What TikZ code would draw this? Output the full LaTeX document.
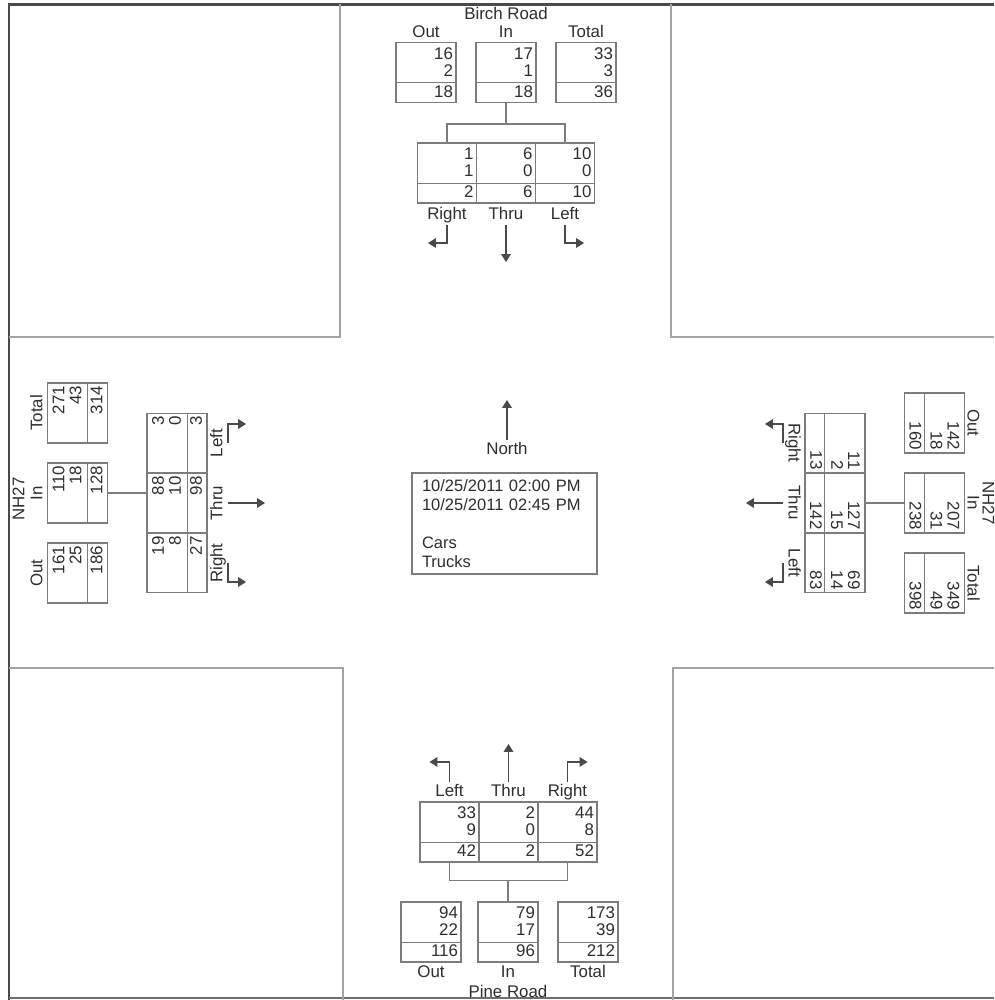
\documentclass[tikz,border=0pt]{standalone}
\usepackage{fontspec}
\setmainfont{Liberation Sans}
\usepackage{tikz}
\usetikzlibrary{arrows.meta,calc,positioning}
\definecolor{ink}{HTML}{2E2E2E}
\definecolor{boxline}{HTML}{7C7C7C}
\definecolor{blockline}{HTML}{A3A3A3}
\definecolor{pageedge}{HTML}{4A4A4A}
\newcommand{\countfont}{\fontsize{9.6pt}{9.64pt}\selectfont}
\tikzset{
    countbox/.style={
        draw=boxline,
        line width=0.6pt,
        text=ink,
        font=\countfont,
        minimum width=1.2cm,
        minimum height=1.2cm,
        text width=1.08cm,
        inner xsep=0.06cm,
        inner ysep=0pt,
        align=right,
        append after command={
            ($(\tikzlastnode.south west)!0.333!(\tikzlastnode.north west)$)
            edge[draw=boxline,line width=0.6pt]
            ($(\tikzlastnode.south east)!0.333!(\tikzlastnode.north east)$)
        }
    },
    movebox/.style={
        countbox,
        minimum width=1.18cm,
        text width=1.06cm
    },
    tag/.style={
        text=ink,
        font=\countfont,
        inner sep=1pt,
        text height=7pt,
        text depth=2pt
    },
    link/.style={
        draw=boxline,
        line width=0.6pt
    },
    turn/.style={
        draw=pageedge,
        line width=0.6pt,
        -{Triangle[length=4.5pt,width=5.5pt]}
    },
    infobox/.style={
        draw=boxline,
        line width=0.6pt,
        text=ink,
        font=\fontsize{9.4pt}{11.2pt}\selectfont,
        text width=3.3cm,
        inner xsep=0.2cm,
        minimum height=2.02cm,
        align=left
    }
}

\begin{document}
\begin{tikzpicture}[x=0.02cm,y=0.02cm]

    \useasboundingbox (-506,-499) rectangle (488,501);
    \clip (-506,-499) rectangle (488,501);

    % Bords de page
    \draw[pageedge,line width=1.5pt]
        (-497,-499) -- (-497,496.5) -- (488,496.5);
    \draw[pageedge!80,line width=0.9pt]
        (-497,-497) -- (488,-497);

    % Blocs
    \draw[blockline,line width=0.8pt]
        (-497,164) -- (-166,164) -- (-166,497);
    \draw[blockline,line width=0.8pt]
        (488,164) -- (165,164) -- (165,497);
    \draw[blockline,line width=0.8pt]
        (-497,-167) -- (-163,-167) -- (-163,-499);
    \draw[blockline,line width=0.8pt]
        (488,-167) -- (167,-167) -- (167,-499);

    % Birch Road
    \node[tag] (bRoad) at (0,486) {Birch Road};
    \node[tag] (bOutH) at (-80,468) {Out};
    \node[tag] (bInH) at (0,468) {In};
    \node[tag] (bTotH) at (80,468) {Total};
    \node[countbox] (bOut) at (-80,428.5) {16\\2\\[2.3pt]18};
    \node[countbox] (bIn) at (0,428.5) {17\\1\\[2.3pt]18};
    \node[countbox] (bTot) at (80,428.5) {33\\3\\[2.3pt]36};
    \node[movebox] (bRight) at (-59,328) {1\\1\\[2.3pt]2};
    \node[movebox] (bThru) at (0,328) {6\\0\\[2.3pt]6};
    \node[movebox] (bLeft) at (59,328) {10\\0\\[2.3pt]10};
    \node[tag] (bRightT) at (-59,286) {Right};
    \node[tag] (bThruT) at (0,286) {Thru};
    \node[tag] (bLeftT) at (59,286) {Left};

    \draw[link] (bIn.south) -- ++(0,-21) coordinate (bFork);
    \draw[link] (bRight.north) |- (bFork) -| (bLeft.north);
    \draw[turn] (bRightT.south) |- ++(-19,-18);
    \draw[turn] (bThruT.south) -- ++(0,-37);
    \draw[turn] (bLeftT.south) |- ++(19,-18);

    % NH27 ouest
    \begin{scope}[rotate=90,transform shape]
        \node[tag] (wRoad) at (2,486) {NH27};
        \node[tag] (wOutH) at (-72,468) {Out};
        \node[tag] (wInH) at (8,468) {In};
        \node[tag] (wTotH) at (88,468) {Total};
        \node[countbox] (wOut) at (-72,428.5) {161\\25\\[2.3pt]186};
        \node[countbox] (wIn) at (8,428.5) {110\\18\\[2.3pt]128};
        \node[countbox] (wTot) at (88,428.5) {271\\43\\[2.3pt]314};
        \node[movebox] (wRight) at (-62,329) {19\\8\\[2.3pt]27};
        \node[movebox] (wThru) at (-2,329) {88\\10\\[2.3pt]98};
        \node[movebox] (wLeft) at (58,329) {3\\0\\[2.3pt]3};
        \node[tag] (wRightT) at (-62,288) {Right};
        \node[tag] (wThruT) at (-2,288) {Thru};
        \node[tag] (wLeftT) at (58,288) {Left};

        \draw[link] (wIn.south) -- ++(0,-21) coordinate (wFork);
        \draw[link] (wRight.north) -| (wFork) |- (wLeft.north);
        \draw[turn] (wRightT.south) -| ++(-19,-18);
        \draw[turn] (wThruT.south) -- ++(0,-37);
        \draw[turn] (wLeftT.south) -| ++(19,-18);
    \end{scope}

    % NH27 est
    \begin{scope}[rotate=-90,transform shape]
        \node[tag] (eRoad) at (2,481) {NH27};
        \node[tag] (eOutH) at (-78,466) {Out};
        \node[tag] (eInH) at (2,466) {In};
        \node[tag] (eTotH) at (82,466) {Total};
        \node[countbox] (eOut) at (-78,428.5) {142\\18\\[2.3pt]160};
        \node[countbox] (eIn) at (2,428.5) {207\\31\\[2.3pt]238};
        \node[countbox] (eTot) at (82,428.5) {349\\49\\[2.3pt]398};
        \node[movebox] (eRight) at (-58,329) {11\\2\\[2.3pt]13};
        \node[movebox] (eThru) at (2,329) {127\\15\\[2.3pt]142};
        \node[movebox] (eLeft) at (62,329) {69\\14\\[2.3pt]83};
        \node[tag] (eRightT) at (-58,287) {Right};
        \node[tag] (eThruT) at (2,287) {Thru};
        \node[tag] (eLeftT) at (62,287) {Left};

        \draw[link] (eIn.south) -- ++(0,-21) coordinate (eFork);
        \draw[link] (eRight.north) -| (eFork) |- (eLeft.north);
        \draw[turn] (eRightT.south) -| ++(-19,-18);
        \draw[turn] (eThruT.south) -- ++(0,-37);
        \draw[turn] (eLeftT.south) -| ++(19,-18);
    \end{scope}

    % Pine Road
    \node[tag] (pRoad) at (2,-492) {Pine Road};
    \node[tag] (pOutH) at (-75,-472) {Out};
    \node[tag] (pInH) at (2,-472) {In};
    \node[tag] (pTotH) at (82,-472) {Total};
    \node[countbox] (pOut) at (-75,-431) {94\\22\\[2.3pt]116};
    \node[countbox] (pIn) at (2,-431) {79\\17\\[2.3pt]96};
    \node[countbox] (pTot) at (82,-431) {173\\39\\[2.3pt]212};
    \node[movebox] (pLeft) at (-56.5,-331) {33\\9\\[2.3pt]42};
    \node[movebox] (pThru) at (2.5,-331) {2\\0\\[2.3pt]2};
    \node[movebox] (pRight) at (61.5,-331) {44\\8\\[2.3pt]52};
    \node[tag] (pLeftT) at (-56.5,-291) {Left};
    \node[tag] (pThruT) at (2.5,-291) {Thru};
    \node[tag] (pRightT) at (61.5,-291) {Right};

    \draw[link] (pIn.north) -- ++(0,21) coordinate (pFork);
    \draw[link] (pLeft.south) |- (pFork) -| (pRight.south);
    \draw[turn] (pLeftT.north) |- ++(-20,20);
    \draw[turn] (pThruT.north) -- ++(0,38);
    \draw[turn] (pRightT.north) |- ++(20,20);

    % Centre
    \node[tag] (north) at (1,51) {North};
    \draw[turn] (north.north) -- ++(0,40);

    \node[infobox] (info) at (-1.5,-22.5)
        {10/25/2011 02:00 PM\\10/25/2011 02:45 PM\\[10pt]Cars\\Trucks};

\end{tikzpicture}
\end{document}
